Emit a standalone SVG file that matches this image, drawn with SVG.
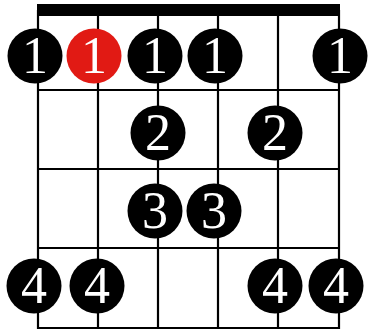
<svg xmlns="http://www.w3.org/2000/svg" width="370" height="331" viewBox="0 0 370 331">
<style>
.s{stroke:#000;stroke-width:2.2;fill:none}
.d{fill:#000}
.r{fill:#e11a14}
.t{fill:#fff;font-family:'Liberation Serif','DejaVu Serif',serif;font-size:52px;text-anchor:middle}
</style>
<rect width="370" height="331" fill="#fff"/>
<g id="grid">
<rect x="37" y="4" width="303" height="12" fill="#000"/>
<path class="s" d="M38 10V329M98 10V329M158 10V329M218 10V329M278 10V329M339 10V329"/>
<path class="s" d="M38 90H339M38 169H339M38 248H339M38 328H339"/>
</g>
<g id="n1a"><circle class="d" cx="35" cy="56" r="27.5"/><text class="t" x="35" y="73">1</text></g>
<g id="n1b"><circle class="r" cx="94" cy="56" r="27.5"/><text class="t" x="94" y="73">1</text></g>
<g id="n1c"><circle class="d" cx="155" cy="56" r="27.5"/><text class="t" x="155" y="73">1</text></g>
<g id="n1d"><circle class="d" cx="215" cy="56" r="27.5"/><text class="t" x="215" y="73">1</text></g>
<g id="n1e"><circle class="d" cx="340" cy="56" r="27.5"/><text class="t" x="340" y="73">1</text></g>
<g id="n2a"><circle class="d" cx="158" cy="133" r="27.5"/><text class="t" x="158" y="150">2</text></g>
<g id="n2b"><circle class="d" cx="275" cy="133" r="27.5"/><text class="t" x="275" y="150">2</text></g>
<g id="n3a"><circle class="d" cx="155" cy="211" r="27.5"/><text class="t" x="155" y="228">3</text></g>
<g id="n3b"><circle class="d" cx="214" cy="211" r="27.5"/><text class="t" x="214" y="228">3</text></g>
<g id="n4a"><circle class="d" cx="34" cy="286" r="27.5"/><text class="t" x="34" y="303">4</text></g>
<g id="n4b"><circle class="d" cx="97" cy="286" r="27.5"/><text class="t" x="97" y="303">4</text></g>
<g id="n4c"><circle class="d" cx="275" cy="286" r="27.5"/><text class="t" x="275" y="303">4</text></g>
<g id="n4d"><circle class="d" cx="336" cy="286" r="27.5"/><text class="t" x="336" y="303">4</text></g>
</svg>
